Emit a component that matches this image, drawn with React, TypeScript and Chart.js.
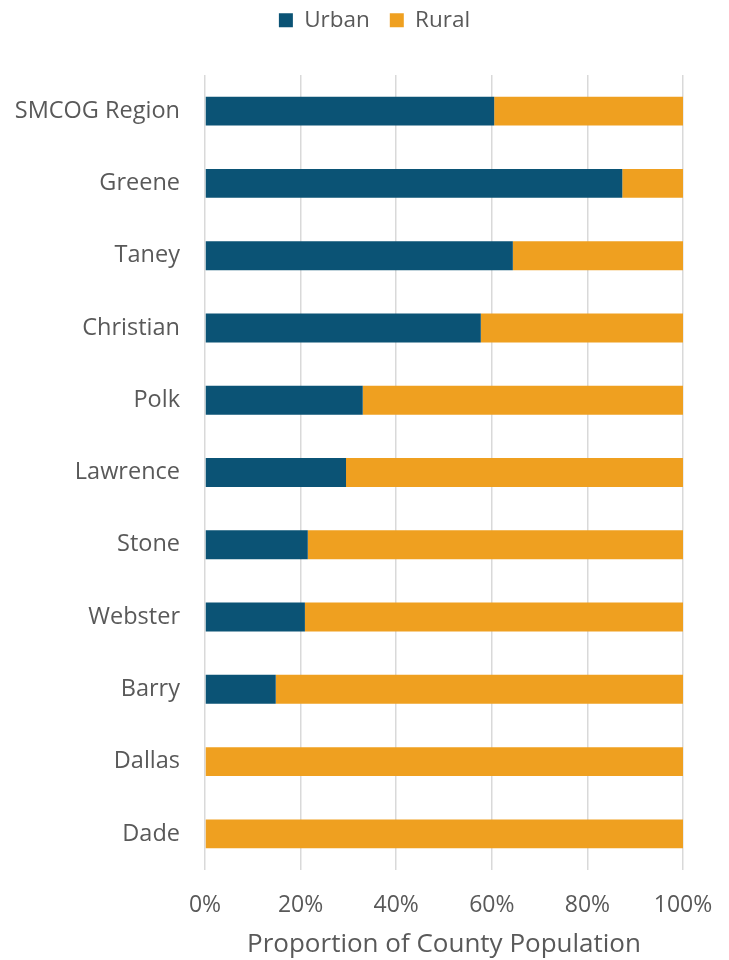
import React, { useEffect, useRef } from "react";
import { Chart, registerables } from "chart.js";

Chart.register(...registerables);

const categories = [
  "SMCOG Region",
  "Greene",
  "Taney",
  "Christian",
  "Polk",
  "Lawrence",
  "Stone",
  "Webster",
  "Barry",
  "Dallas",
  "Dade",
];
const urbanShare = [60.5, 87.3, 64.4, 57.7, 33.0, 29.5, 21.5, 20.9, 14.8, 0, 0];
const ruralShare = [39.5, 12.7, 35.6, 42.3, 67.0, 70.5, 78.5, 79.1, 85.2, 100, 100];
const seriesNames = ["Urban", "Rural"];
const xTicks = [0, 20, 40, 60, 80, 100];
const axisTitle = "Proportion of County Population";

const FONT = "'Open Sans', 'Noto Sans', sans-serif";
const TEXT = "#595959";

export default function App() {
  const ref = useRef<HTMLCanvasElement | null>(null);

  useEffect(() => {
    if (!ref.current) return;
    const legendSpacer = {
      id: "legendSpacer",
      beforeInit(chart: any) {
        const fit = chart.legend.fit;
        chart.legend.fit = function () {
          fit.call(this);
          this.height = 75;
        };
      },
      afterLayout(chart: any) {
        const lg = chart.legend;
        lg.left += 33;
        lg.right += 33;
        lg.top -= 11;
        lg.bottom -= 11;
      },
    };
    const chart = new Chart(ref.current, {
      type: "bar",
      data: {
        labels: categories,
        datasets: [
          {
            label: seriesNames[0],
            data: urbanShare,
            backgroundColor: "#0B5375",
            categoryPercentage: 1,
            barPercentage: 0.4,
          },
          {
            label: seriesNames[1],
            data: ruralShare,
            backgroundColor: "#EFA020",
            categoryPercentage: 1,
            barPercentage: 0.4,
          },
        ],
      },
      plugins: [legendSpacer],
      options: {
        indexAxis: "y",
        responsive: false,
        animation: false,
        layout: { padding: { top: 0, right: 46, left: 0, bottom: 0 } },
        plugins: {
          legend: {
            position: "top",
            labels: {
              boxWidth: 14,
              boxHeight: 14,
              padding: 20,
              color: TEXT,
              font: { family: FONT, size: 22.5 },
            },
          },
          tooltip: { enabled: false },
        },
        scales: {
          x: {
            stacked: true,
            min: 0,
            max: 100,
            afterBuildTicks(scale: any) {
              scale.ticks = xTicks.map((v) => ({ value: v }));
            },
            afterFit(scale: any) {
              scale.height = 90;
              scale.paddingLeft = 0;
              scale.paddingRight = 0;
            },
            grid: { color: "#D9D9D9", lineWidth: 1.5, drawTicks: false },
            border: { display: false },
            ticks: {
              padding: 22,
              color: TEXT,
              font: { family: FONT, size: 23 },
              callback: (v: any) => v + "%",
            },
            title: {
              display: true,
              text: axisTitle,
              color: TEXT,
              font: { family: FONT, size: 26 },
              padding: { top: 0, bottom: 0 },
            },
          },
          y: {
            stacked: true,
            afterFit(scale: any) {
              scale.width = 205;
            },
            grid: { display: false },
            border: { display: false },
            ticks: {
              padding: 17,
              color: TEXT,
              font: { family: FONT, size: 23.5 },
            },
          },
        },
      },
    } as any);
    return () => chart.destroy();
  }, []);

  return (
    <div style={{ position: "fixed", left: 0, top: 0, width: 729, height: 960, background: "#fff" }}>
      <canvas ref={ref} width={729} height={960} style={{ display: "block" }} />
    </div>
  );
}
